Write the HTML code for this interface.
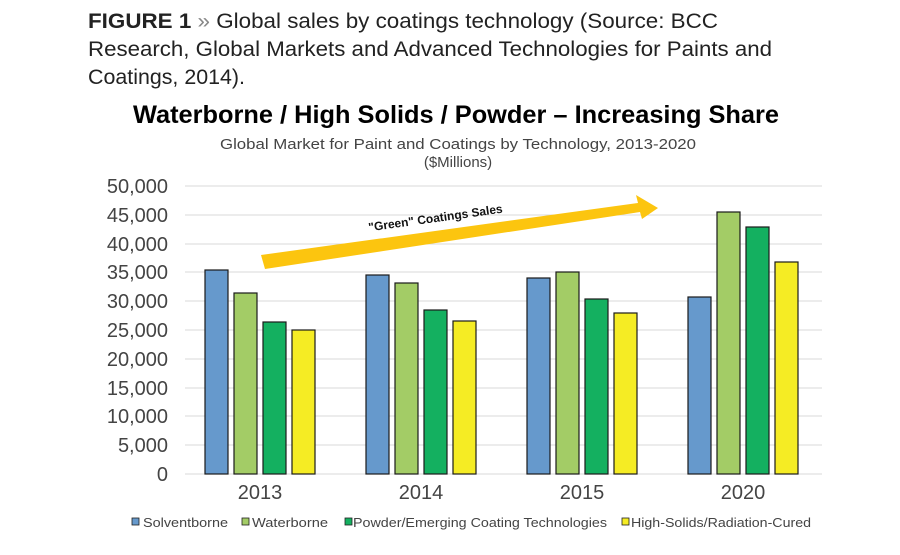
<!DOCTYPE html>
<html><head><meta charset="utf-8"><style>
body{margin:0;width:900px;height:550px;background:#fff;overflow:hidden}
</style></head><body>
<svg width="900" height="550" xmlns="http://www.w3.org/2000/svg" font-family="Liberation Sans, sans-serif">
<text x="88" y="28" font-size="21" fill="#222" textLength="630" lengthAdjust="spacingAndGlyphs"><tspan font-weight="bold">FIGURE 1</tspan> <tspan fill="#888">»</tspan> Global sales by coatings technology (Source: BCC</text>
<text x="88" y="56" font-size="21" fill="#222" textLength="684" lengthAdjust="spacingAndGlyphs">Research, Global Markets and Advanced Technologies for Paints and</text>
<text x="88" y="84" font-size="21" fill="#222" textLength="157" lengthAdjust="spacingAndGlyphs">Coatings, 2014).</text>
<text x="456" y="123" font-size="25" font-weight="bold" text-anchor="middle" fill="#000" textLength="646" lengthAdjust="spacingAndGlyphs">Waterborne / High Solids / Powder – Increasing Share</text>
<text x="458" y="149" font-size="15" text-anchor="middle" fill="#444" textLength="476" lengthAdjust="spacingAndGlyphs">Global Market for Paint and Coatings by Technology, 2013-2020</text>
<text x="458" y="167" font-size="15" text-anchor="middle" fill="#444">($Millions)</text>
<g stroke="#d9d9d9" stroke-width="1">
<line x1="185" x2="822" y1="186" y2="186"/><line x1="185" x2="822" y1="215" y2="215"/><line x1="185" x2="822" y1="244" y2="244"/><line x1="185" x2="822" y1="272" y2="272"/><line x1="185" x2="822" y1="301" y2="301"/><line x1="185" x2="822" y1="330" y2="330"/><line x1="185" x2="822" y1="359" y2="359"/><line x1="185" x2="822" y1="388" y2="388"/><line x1="185" x2="822" y1="416" y2="416"/><line x1="185" x2="822" y1="445" y2="445"/><line x1="185" x2="822" y1="474" y2="474"/>
</g>
<g font-size="20" fill="#444" text-anchor="end">
<text x="168" y="193">50,000</text><text x="168" y="222">45,000</text><text x="168" y="251">40,000</text><text x="168" y="279">35,000</text><text x="168" y="308">30,000</text><text x="168" y="337">25,000</text><text x="168" y="366">20,000</text><text x="168" y="395">15,000</text><text x="168" y="423">10,000</text><text x="168" y="452">5,000</text><text x="168" y="481">0</text>
</g>
<g stroke="#1a1a1a" stroke-width="1.2">
<rect x="205" y="270" width="23" height="204" fill="#6699cc"/><rect x="234" y="293" width="23" height="181" fill="#a3cc66"/><rect x="263" y="322" width="23" height="152" fill="#14b060"/><rect x="292" y="330" width="23" height="144" fill="#f5ec24"/>
<rect x="366" y="275" width="23" height="199" fill="#6699cc"/><rect x="395" y="283" width="23" height="191" fill="#a3cc66"/><rect x="424" y="310" width="23" height="164" fill="#14b060"/><rect x="453" y="321" width="23" height="153" fill="#f5ec24"/>
<rect x="527" y="278" width="23" height="196" fill="#6699cc"/><rect x="556" y="272" width="23" height="202" fill="#a3cc66"/><rect x="585" y="299" width="23" height="175" fill="#14b060"/><rect x="614" y="313" width="23" height="161" fill="#f5ec24"/>
<rect x="688" y="297" width="23" height="177" fill="#6699cc"/><rect x="717" y="212" width="23" height="262" fill="#a3cc66"/><rect x="746" y="227" width="23" height="247" fill="#14b060"/><rect x="775" y="262" width="23" height="212" fill="#f5ec24"/>
</g>
<g font-size="20" fill="#444" text-anchor="middle">
<text x="260" y="499">2013</text><text x="421" y="499">2014</text><text x="582" y="499">2015</text><text x="743" y="499">2020</text>
</g>
<polygon points="263,262 261,255 638,203 636,195 658,208 642,219 640,212 265,269" fill="#fcc50f"/>
<text x="436" y="222" font-size="12" font-weight="bold" text-anchor="middle" transform="rotate(-8 436 222)" fill="#111">"Green" Coatings Sales</text>
<g font-size="13" fill="#444" stroke-width="0.8">
<rect x="132" y="518" width="7" height="7" fill="#6699cc" stroke="#222"/><text x="143" y="527" textLength="85" lengthAdjust="spacingAndGlyphs">Solventborne</text>
<rect x="242" y="518" width="7" height="7" fill="#a3cc66" stroke="#222"/><text x="252" y="527" textLength="76" lengthAdjust="spacingAndGlyphs">Waterborne</text>
<rect x="345" y="518" width="7" height="7" fill="#14b060" stroke="#222"/><text x="353" y="527" textLength="254" lengthAdjust="spacingAndGlyphs">Powder/Emerging Coating Technologies</text>
<rect x="622" y="518" width="7" height="7" fill="#f5ec24" stroke="#222"/><text x="631" y="527" textLength="180" lengthAdjust="spacingAndGlyphs">High-Solids/Radiation-Cured</text>
</g>
</svg>
</body></html>
